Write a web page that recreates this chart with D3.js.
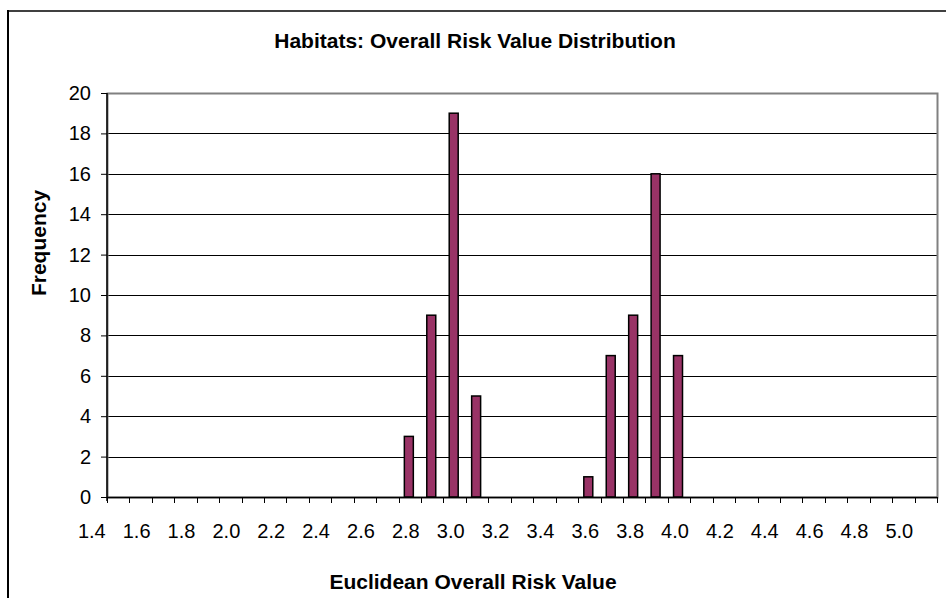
<!DOCTYPE html>
<html>
<head>
<meta charset="utf-8">
<script src="https://cdn.jsdelivr.net/npm/d3@7"></script>
<style>
  body { margin: 0; background: #fff; }
  svg text { font-family: Arial, "Liberation Sans", sans-serif; fill: #000; }
</style>
</head>
<body>
<div id="chart"></div>
<script>
// bins (upper bound of each class) and counts per bin
const bins = ['1.5','1.6','1.7','1.8','1.9','2.0','2.1','2.2','2.3','2.4','2.5','2.6','2.7','2.8','2.9',
	'3.0','3.1','3.2','3.3','3.4','3.5','3.6','3.7','3.8','3.9','4.0','4.1','4.2','4.3','4.4',
	'4.5','4.6','4.7','4.8','4.9','5.0','5.1'];
const counts = [0,0,0,0,0,0,0,0,0,0,0,0,0,3,9,
	19,5,0,0,0,0,1,7,9,16,7,0,0,0,0,
	0,0,0,0,0,0,0];
const xLabels = ['1.4','1.6','1.8','2.0','2.2','2.4','2.6','2.8','3.0','3.2','3.4','3.6','3.8','4.0','4.2','4.4','4.6','4.8','5.0'];
const yTicks = [0,2,4,6,8,10,12,14,16,18,20];

const width = 946, height = 598;
const margin = {top: 93, right: 9, bottom: 101, left: 107};
const innerWidth = width - margin.left - margin.right,
	innerHeight = height - margin.top - margin.bottom;

const svg = d3.select('#chart').append('svg').attr('width', width).attr('height', height);

// outer chart frame (top + left visible)
svg.append('line').attr('x1', 8).attr('x2', width).attr('y1', 11).attr('y2', 11)
	.attr('stroke', '#404040').attr('stroke-width', 2);
svg.append('line').attr('x1', 8).attr('x2', 8).attr('y1', 10).attr('y2', height)
	.attr('stroke', '#000').attr('stroke-width', 2);

const g = svg.append('g').attr('transform', `translate(${margin.left}, ${margin.top})`);

const x = d3.scaleBand().domain(bins).range([0, innerWidth]).paddingInner(0.6).paddingOuter(0.3);
const step = x.step();
const y = d3.scaleLinear().domain([0, 20]).range([innerHeight, 0]);
// numeric position of a bin value (for the label row)
const xv = d3.scaleLinear()
	.domain([+bins[0], +bins[bins.length - 1]])
	.range([step / 2, innerWidth - step / 2]);

// gridlines
g.append('g')
	.selectAll('line')
	.data(yTicks.filter(d => d > 0 && d < 20))
	.enter().append('line')
	.attr('x1', 0).attr('x2', innerWidth)
	.attr('y1', d => Math.round(y(d)) + 0.5).attr('y2', d => Math.round(y(d)) + 0.5)
	.attr('stroke', '#000').attr('stroke-width', 1);

// plot area border
g.append('rect')
	.attr('x', 0.5).attr('y', 0.5).attr('width', innerWidth).attr('height', innerHeight)
	.attr('fill', 'none').attr('stroke', '#808080').attr('stroke-width', 2);

// bars
g.append('g')
	.selectAll('rect')
	.data(bins.map((b, i) => ({bin: b, value: counts[i]})).filter(d => d.value > 0))
	.enter().append('rect')
	.attr('x', d => x(d.bin) - 1)
	.attr('y', d => y(d.value))
	.attr('width', x.bandwidth())
	.attr('height', d => innerHeight - y(d.value))
	.attr('fill', '#993366')
	.attr('stroke', '#000')
	.attr('stroke-width', 1.5);

// y axis
const yAxis = g.append('g')
	.call(d3.axisLeft(y).tickValues(yTicks).tickSize(6).tickPadding(10));
yAxis.select('.domain').attr('stroke', '#000').attr('stroke-width', 1.5).attr('d', `M0,0V${innerHeight + 4}`);
yAxis.selectAll('.tick line').attr('stroke', '#000');
yAxis.selectAll('.tick text').attr('font-size', 20).attr('fill', '#000').attr('font-family', 'Arial, "Liberation Sans", sans-serif');

// x axis: ticks at bin boundaries
const xAxis = g.append('g').attr('transform', `translate(0,${innerHeight})`);
xAxis.append('line').attr('x1', 0).attr('x2', innerWidth).attr('y1', 0.5).attr('y2', 0.5)
	.attr('stroke', '#000').attr('stroke-width', 1.5);
xAxis.selectAll('.xtick')
	.data(d3.range(bins.length + 1))
	.enter().append('line')
	.attr('class', 'xtick')
	.attr('x1', i => Math.round(i * step) + 0.5).attr('x2', i => Math.round(i * step) + 0.5)
	.attr('y1', 0).attr('y2', 6)
	.attr('stroke', '#000');
xAxis.selectAll('.xlab')
	.data(xLabels)
	.enter().append('text')
	.attr('class', 'xlab')
	.attr('x', d => xv(+d) - 4)
	.attr('y', 41)
	.attr('text-anchor', 'middle')
	.attr('font-size', 20)
	.text(d => d);

// titles
svg.append('text')
	.attr('x', 475).attr('y', 48)
	.attr('text-anchor', 'middle')
	.attr('font-size', 21).attr('font-weight', 'bold')
	.text('Habitats: Overall Risk Value Distribution');

svg.append('text')
	.attr('x', 473).attr('y', 589)
	.attr('text-anchor', 'middle')
	.attr('font-size', 21).attr('font-weight', 'bold')
	.text('Euclidean Overall Risk Value');

svg.append('text')
	.attr('transform', 'translate(46,243) rotate(-90)')
	.attr('text-anchor', 'middle')
	.attr('font-size', 21).attr('font-weight', 'bold')
	.text('Frequency');
</script>
</body>
</html>
